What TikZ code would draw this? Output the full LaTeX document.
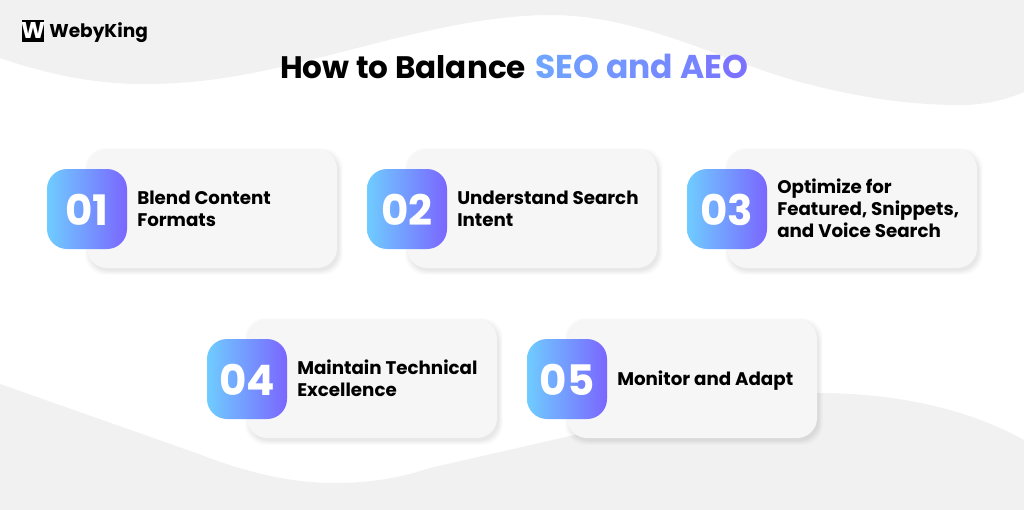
\documentclass[tikz,border=0pt]{standalone}
\usepackage{fontspec}
\setmainfont{Poppins}
\definecolor{wavegray}{HTML}{F1F1F2}
\definecolor{cardgray}{HTML}{F6F6F7}
\definecolor{gradA}{HTML}{6FCCFF}
\definecolor{gradB}{HTML}{7A66FF}
\definecolor{titleA}{HTML}{6FA4FF}
\definecolor{titleB}{HTML}{7C6EFF}
\newcommand{\gradletter}[2]{\textcolor{titleA!#1!titleB}{#2}}
\newcommand{\textdrop}{-0.5}
\newcommand{\stepcard}[5]{%
  % #1 name, #2 left x of badge, #3 top y of badge, #4 number, #5 text
  \foreach \g/\o in {4/0.012,3/0.015,2/0.018,1/0.02,0/0.025}{
    \fill[black,opacity=\o,rounded corners=15pt]
      (#2+40-\g+2,#3-20-\g+3) rectangle (#2+290+\g+2,#3+99+\g+3);
  }
  \node[card] (#1card) at (#2+165,#3+39.5) {};
  \node[badge] (#1badge) at (#2+40,#3+40) {};
  \node[numtext] (#1num) at (#2+40,#3+40.5) {#4};
  \node[steptext] (#1text) at (#2+90,#3+40+\textdrop) {#5};
}
\tikzset{
  card/.style={fill=cardgray,rounded corners=15pt,minimum width=187.5pt,minimum height=89.25pt,inner sep=0pt},
  badge/.style={left color=gradA,right color=gradB,rounded corners=15pt,minimum width=60pt,minimum height=60pt,inner sep=0pt},
  numtext/.style={text=white,font=\fontsize{31.5}{32}\selectfont\bfseries,inner sep=0pt},
  steptext/.style={text=black,anchor=west,align=left,inner sep=0pt,font=\fontsize{13.7}{16.5}\selectfont\bfseries},
  wave/.style={fill=wavegray,draw=none},
}
\begin{document}
\begin{tikzpicture}[x=0.75pt,y=-0.75pt]
\useasboundingbox (0,0) rectangle (1024,510);
\fill[white] (0,0) rectangle (1024,510);
% top wave
\fill[wave] (0,0) -- (0,58) .. controls (50,75) and (95,84) .. (145,84)
  .. controls (215,84) and (270,70) .. (330,55)
  .. controls (400,37) and (480,15) .. (550,15)
  .. controls (640,15) and (720,60) .. (800,82)
  .. controls (860,98) and (910,105) .. (960,105)
  .. controls (985,105) and (1005,100) .. (1024,92) -- (1024,0) -- cycle;
% bottom wave
\fill[wave] (0,510) -- (0,384) -- (196,453)
  .. controls (240,470) and (285,483) .. (335,483)
  .. controls (370,483) and (400,478) .. (430,468)
  -- (570,436) -- (700,410)
  .. controls (740,400) and (780,393) .. (815,393)
  .. controls (900,393) and (970,410) .. (1024,440) -- (1024,510) -- cycle;
% logo
\fill[black] (22,20.5) -- (44,20.5) -- (44,42.5) -- (22,42.5) -- cycle;
\node[text=white,inner sep=0pt,font=\fontsize{17}{17}\selectfont\bfseries] (logomark) at (33,30.5) {\resizebox{18pt}{!}{W}};
\node[text=black,anchor=base west,inner sep=0pt,font=\fontsize{13.9}{14}\selectfont\bfseries] (logotext) at (49,38) {WebyKing};
% title
\node[anchor=base west,inner sep=0pt,font=\fontsize{23.3}{26}\selectfont\bfseries] (title) at (280,78.5) {How to Balance};
\node[anchor=base west,inner sep=0pt,font=\fontsize{24.7}{26}\selectfont\bfseries] (titleaccent) at (535,78.5) {\gradletter{100}{S}\gradletter{92}{E}\gradletter{84}{O} \gradletter{72}{a}\gradletter{62}{n}\gradletter{52}{d} \gradletter{40}{A}\gradletter{24}{E}\gradletter{8}{O}};
% steps
\stepcard{one}{47}{169}{01}{Blend Content\\Formats}
\stepcard{two}{367}{169}{02}{Understand Search\\Intent}
\stepcard{three}{687}{169}{03}{Optimize for\\Featured, Snippets,\\and Voice Search}
\stepcard{four}{207}{339}{04}{Maintain Technical\\Excellence}
\renewcommand{\textdrop}{1.5}
\stepcard{five}{527}{339}{05}{Monitor and Adapt}
\end{tikzpicture}
\end{document}
